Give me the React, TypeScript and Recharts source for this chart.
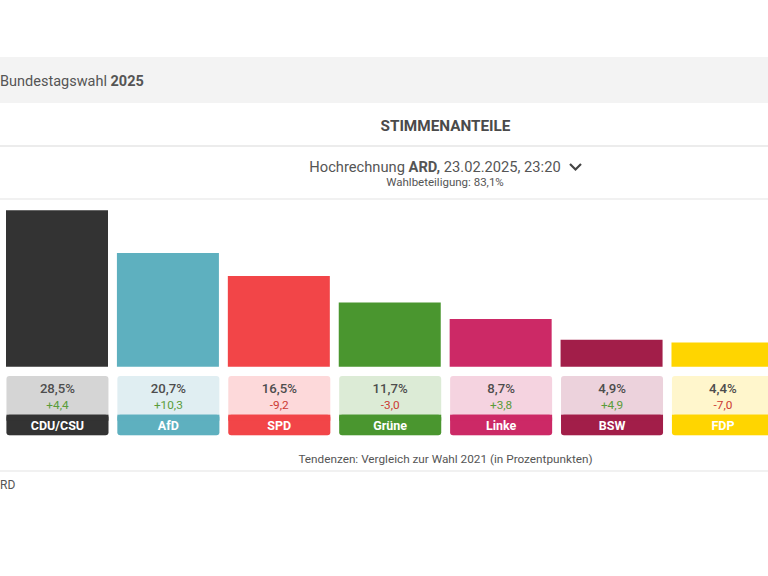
import React from "react";
import { BarChart, Bar, XAxis, YAxis, Cell } from "recharts";

const parties = ["CDU/CSU", "AfD", "SPD", "Grüne", "Linke", "BSW", "FDP"];
const shares = [28.5, 20.7, 16.5, 11.7, 8.7, 4.9, 4.4];
const changes = [4.4, 10.3, -9.2, -3.0, 3.8, 4.9, -7.0];
const barColors = ["#333333", "#5eb0bf", "#f24548", "#4a962f", "#cc2966", "#a21e49", "#ffd500"];
const lightColors = ["#d5d5d5", "#e0eef2", "#fdd9da", "#dcebd6", "#f5d3e0", "#ecd2dc", "#fff6cc"];

const data = parties.map((p, i) => ({ party: p, share: shares[i], change: changes[i] }));

const fmt = (v: number) => v.toFixed(1).replace(".", ",");
const fmtChange = (v: number) => (v > 0 ? "+" : "") + fmt(v);

const FONT = "Roboto, 'Noto Sans', sans-serif";

const PartyTick = (props: any) => {
  const { x, y, payload } = props;
  const i = payload.index;
  const w = 102;
  const left = x - w / 2;
  const top = y + 9.3;
  const green = "#5a9c3a";
  const red = "#cc3a33";
  return (
    <g>
      <rect x={left} y={top} width={w} height={59.3} rx={3} ry={3} fill={lightColors[i]} />
      <rect x={left} y={top + 38.7} width={w} height={20.6} rx={3} ry={3} fill={barColors[i]} />
      <rect x={left} y={top + 38.7} width={w} height={6} fill={barColors[i]} />
      <text x={x} y={top + 16.7} textAnchor="middle" fontFamily={FONT} fontSize={13.2} fontWeight={500} fill="#4d4d4d">
        {fmt(shares[i]) + "%"}
      </text>
      <text x={x} y={top + 32.5} textAnchor="middle" fontFamily={FONT} fontSize={11.8} fill={changes[i] >= 0 ? green : red}>
        {fmtChange(changes[i])}
      </text>
      <text x={x} y={top + 54} textAnchor="middle" fontFamily={FONT} fontSize={12.5} fontWeight={700} fill="#ffffff">
        {payload.value}
      </text>
    </g>
  );
};

export default function App() {
  return (
    <div
      style={{
        position: "absolute",
        left: 0,
        top: 0,
        width: 768,
        height: 576,
        overflow: "hidden",
        background: "#ffffff",
        fontFamily: FONT,
      }}
    >
      <svg width={768} height={576} style={{ position: "absolute", left: 0, top: 0 }}>
        <rect x={0} y={57} width={768} height={46} fill="#f3f3f3" />
        <text x={0} y={86} fontFamily={FONT} fontSize={14.5} fill="#555555">
          Bundestagswahl <tspan fontWeight={700}>2025</tspan>
        </text>
        <text x={445.5} y={130.7} textAnchor="middle" fontFamily={FONT} fontSize={15.3} fontWeight={700} fill="#4a4a4a">
          STIMMENANTEILE
        </text>
        <line x1={0} x2={768} y1={146} y2={146} stroke="#e6e6e6" strokeWidth={1.5} />
        <text x={435} y={171.7} textAnchor="middle" fontFamily={FONT} fontSize={14.7} fill="#555555">
          Hochrechnung <tspan fontWeight={700}>ARD,</tspan> 23.02.2025, 23:20
        </text>
        <path d="M570 164 L575.5 169.5 L581 164" fill="none" stroke="#444444" strokeWidth={2.2} />
        <text x={445} y={185.7} textAnchor="middle" fontFamily={FONT} fontSize={11.5} fill="#555555">
          Wahlbeteiligung: 83,1%
        </text>
        <line x1={0} x2={768} y1={199} y2={199} stroke="#ececec" strokeWidth={1.5} />
        <text x={445.5} y={462.5} textAnchor="middle" fontFamily={FONT} fontSize={11.75} fill="#555555">
          Tendenzen: Vergleich zur Wahl 2021 (in Prozentpunkten)
        </text>
        <line x1={0} x2={768} y1={471} y2={471} stroke="#ececec" strokeWidth={1.5} />
        <text x={0} y={488.5} fontFamily={FONT} fontSize={12} fill="#555555">
          RD
        </text>
      </svg>
      <div style={{ position: "absolute", left: 0, top: 190 }}>
        <BarChart
          width={780}
          height={260}
          data={data}
          margin={{ top: 12, right: 1.6, left: 2, bottom: 0 }}
        >
          <YAxis hide domain={[0, 30]} />
          <XAxis
            dataKey="party"
            height={83.3}
            interval={0}
            axisLine={false}
            tickLine={false}
            tickSize={0}
            tickMargin={0}
            tick={<PartyTick />}
          />
          <Bar dataKey="share" barSize={102} isAnimationActive={false}>
            {data.map((d, i) => (
              <Cell key={d.party} fill={barColors[i]} />
            ))}
          </Bar>
        </BarChart>
      </div>
    </div>
  );
}
